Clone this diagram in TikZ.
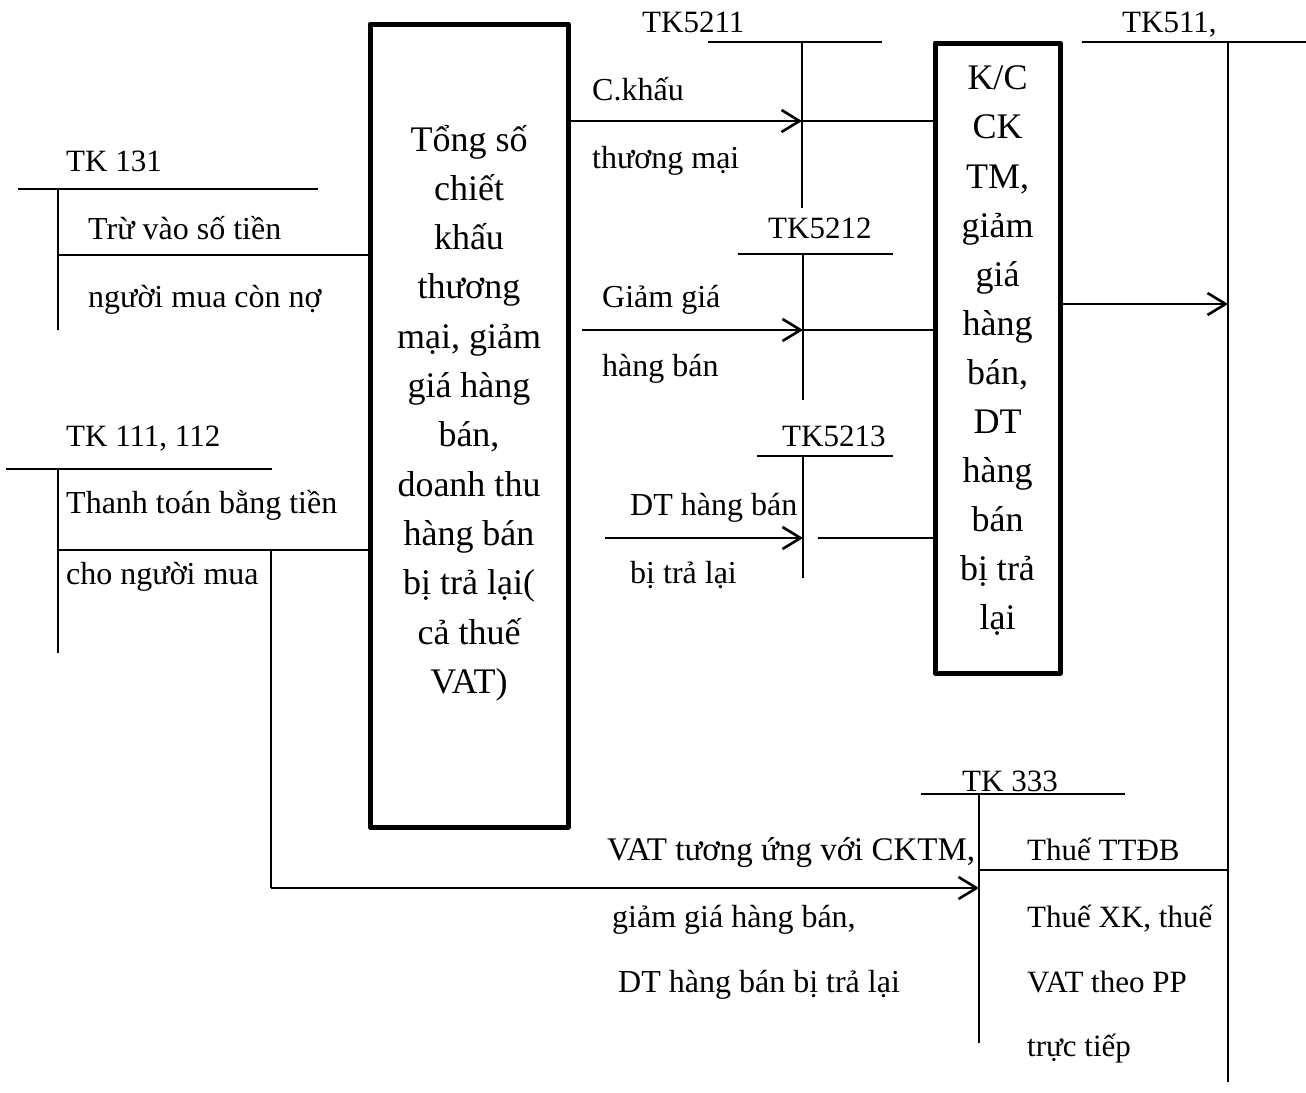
\documentclass[tikz,border=0pt]{standalone}
\usepackage{fontspec}
\setmainfont{Liberation Serif}
\usetikzlibrary{arrows.meta}
\begin{document}
\begin{tikzpicture}[x=1pt,y=-1pt,
  acct/.style={line width=2pt},
  arr/.style={line width=2.6pt,-{Straight Barb[length=18pt,width=22pt]}},
  bigbox/.style={draw,line width=5pt,line join=round,inner sep=0pt,outer sep=0pt},
  lbl/.style={inner sep=0pt,anchor=base west,font=\fontsize{31}{37}\selectfont},
  wlbl/.style={lbl,font=\fontsize{32}{38}\selectfont},
  boxtext/.style={inner sep=0pt,align=center,font=\fontsize{36}{49.3}\selectfont}]
\useasboundingbox (0,0) rectangle (1306,1092);

% main boxes
\node[bigbox,minimum width=198pt,minimum height=803pt] (b1) at (469,425.5) {};
\node[boxtext] (b1t) at (469,413) {Tổng số\\chiết\\khấu\\thương\\mại, giảm\\giá hàng\\bán,\\doanh thu\\hàng bán\\bị trả lại(\\cả thuế\\VAT)};
\node[bigbox,minimum width=125pt,minimum height=630pt] (b2) at (997.5,358) {};
\node[boxtext,font=\fontsize{36}{49.1}\selectfont] (b2t) at (997.5,351) {K/C\\CK\\TM,\\giảm\\giá\\hàng\\bán,\\DT\\hàng\\bán\\bị trả\\lại};

% TK 131
\draw[acct] (18,189) -- (318,189);
\draw[acct] (58,189) -- (58,330);
\coordinate (a131) at (58,255);
\draw[acct] (a131) -- (b1.west |- a131);
\node[lbl] (l131) at (66,171) {TK 131};
\node[wlbl] (l131a) at (88,239) {Trừ vào số tiền};
\node[wlbl] (l131b) at (88,307) {người mua còn nợ};

% TK 111, 112
\draw[acct] (6,469) -- (272,469);
\draw[acct] (58,469) -- (58,653);
\coordinate (a111) at (58,550);
\draw[acct] (a111) -- (b1.west |- a111);
\node[lbl] (l111) at (66,446) {TK 111, 112};
\node[wlbl] (l111a) at (66,513) {Thanh toán bằng tiền};
\node[wlbl] (l111b) at (66,584) {cho người mua};

% TK5211
\draw[acct] (708,42) -- (882,42);
\draw[acct] (802,42) -- (802,208);
\coordinate (t5211) at (802,121);
\draw[arr] (b1.east |- t5211) -- (t5211);
\draw[acct] (t5211) -- (b2.west |- t5211);
\node[lbl] (l5211) at (642,32) {TK5211};
\node[wlbl] (l5211a) at (592,100) {C.khấu};
\node[wlbl] (l5211b) at (592,168) {thương mại};

% TK5212
\draw[acct] (738,254) -- (893,254);
\draw[acct] (803,254) -- (803,400);
\coordinate (s5212) at (582,330);
\coordinate (t5212) at (803,330);
\draw[arr] (s5212) -- (t5212);
\draw[acct] (t5212) -- (b2.west |- t5212);
\node[lbl] (l5212) at (768,238) {TK5212};
\node[wlbl] (l5212a) at (602,307) {Giảm giá};
\node[wlbl] (l5212b) at (602,376) {hàng bán};

% TK5213
\draw[acct] (757,456) -- (893,456);
\draw[acct] (803,456) -- (803,578);
\coordinate (s5213) at (605,538);
\coordinate (t5213) at (803,538);
\coordinate (u5213) at (818,538);
\draw[arr] (s5213) -- (t5213);
\draw[acct] (u5213) -- (b2.west |- u5213);
\node[lbl] (l5213) at (782,446) {TK5213};
\node[wlbl] (l5213a) at (630,515) {DT hàng bán};
\node[wlbl] (l5213b) at (630,583) {bị trả lại};

% TK511
\draw[acct] (1082,42) -- (1306,42);
\draw[acct] (1228,42) -- (1228,1082);
\coordinate (t511) at (1228,304);
\draw[arr] (b2.east |- t511) -- (t511);
\node[lbl] (l511) at (1122,32) {TK511,};

% TK 333
\draw[acct] (921,794) -- (1125,794);
\draw[acct] (979,794) -- (979,1043);
\draw[acct] (979,870) -- (1228,870);
\coordinate (c111) at (271,550);
\coordinate (t333) at (979,888);
\draw[acct] (c111) -- (271,888);
\draw[arr] (271,888) -- (t333);
\node[lbl] (l333) at (962,791) {TK 333};
\node[lbl,font=\fontsize{33}{38}\selectfont] (l333a) at (607,860) {VAT tương ứng với CKTM,};
\node[wlbl] (l333b) at (612,927) {giảm giá hàng bán,};
\node[wlbl] (l333c) at (618,992) {DT hàng bán bị trả lại};
\node[lbl] (l333d) at (1027,860) {Thuế TTĐB};
\node[lbl] (l333e) at (1027,927) {Thuế XK, thuế};
\node[lbl] (l333f) at (1027,992) {VAT theo PP};
\node[lbl] (l333g) at (1027,1056) {trực tiếp};
\end{tikzpicture}
\end{document}
